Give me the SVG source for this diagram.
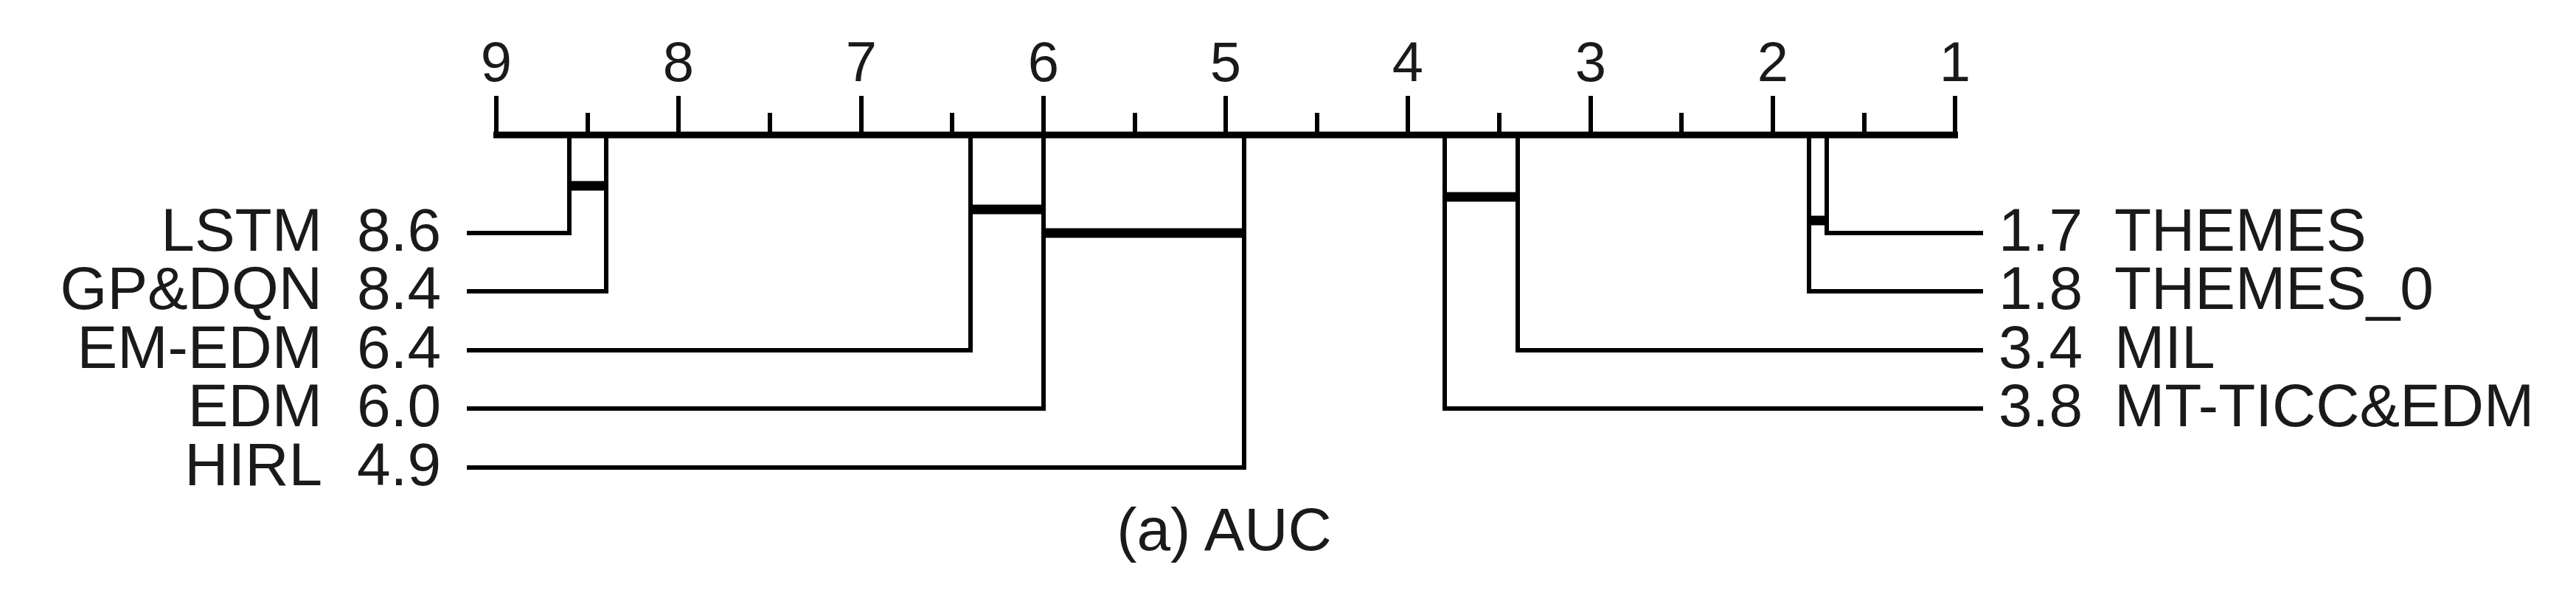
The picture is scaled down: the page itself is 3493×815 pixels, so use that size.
<svg xmlns="http://www.w3.org/2000/svg" width="3493" height="815" viewBox="0 0 3493 815">
<style>
text{font-family:"Liberation Sans",Arial,sans-serif;fill:#1a1a1a;font-size:82px}
.t{font-size:76px;text-anchor:middle}
.e{text-anchor:end}
.ln{stroke:#000;stroke-width:6;fill:none;stroke-linecap:square}
.ax{stroke:#000;stroke-width:9;fill:none}
.cl{stroke:#000;stroke-width:13}
</style>
<rect width="3493" height="815" fill="#fff"/>
<g id="axis">
<line class="ax" x1="669" y1="183" x2="2655" y2="183"/>
<g class="ln">
<line x1="673" y1="133" x2="673" y2="183"/><line x1="920" y1="133" x2="920" y2="183"/><line x1="1168" y1="133" x2="1168" y2="183"/><line x1="1415" y1="133" x2="1415" y2="183"/><line x1="1662" y1="133" x2="1662" y2="183"/><line x1="1909" y1="133" x2="1909" y2="183"/><line x1="2157" y1="133" x2="2157" y2="183"/><line x1="2404" y1="133" x2="2404" y2="183"/><line x1="2651" y1="133" x2="2651" y2="183"/>
<line x1="797" y1="156" x2="797" y2="183"/><line x1="1044" y1="156" x2="1044" y2="183"/><line x1="1291" y1="156" x2="1291" y2="183"/><line x1="1539" y1="156" x2="1539" y2="183"/><line x1="1786" y1="156" x2="1786" y2="183"/><line x1="2033" y1="156" x2="2033" y2="183"/><line x1="2280" y1="156" x2="2280" y2="183"/><line x1="2528" y1="156" x2="2528" y2="183"/>
</g>
<text class="t" x="673" y="110">9</text><text class="t" x="920" y="110">8</text><text class="t" x="1168" y="110">7</text><text class="t" x="1415" y="110">6</text><text class="t" x="1662" y="110">5</text><text class="t" x="1909" y="110">4</text><text class="t" x="2157" y="110">3</text><text class="t" x="2404" y="110">2</text><text class="t" x="2651" y="110">1</text>
</g>
<g id="connectors" class="ln">
<polyline points="636,316 772,316 772,183"/>
<polyline points="636,395 822,395 822,183"/>
<polyline points="636,475 1316,475 1316,183"/>
<polyline points="636,554 1415,554 1415,183"/>
<polyline points="636,634 1687,634 1687,183"/>
<polyline points="2686,316 2477,316 2477,183"/>
<polyline points="2686,395 2453,395 2453,183"/>
<polyline points="2686,475 2058,475 2058,183"/>
<polyline points="2686,554 1959,554 1959,183"/>
</g>
<g id="cliques">
<line class="cl" x1="772" y1="252" x2="822" y2="252"/>
<line class="cl" x1="1316" y1="284" x2="1415" y2="284"/>
<line class="cl" x1="1415" y1="316" x2="1687" y2="316"/>
<line class="cl" x1="1959" y1="267" x2="2058" y2="267"/>
<line class="cl" x1="2453" y1="299" x2="2477" y2="299"/>
</g>
<g id="n-lstm"><text class="e" x="437" y="340">LSTM</text><text class="e" x="598" y="340">8.6</text></g>
<g id="n-gpdqn"><text class="e" x="437" y="419">GP&amp;DQN</text><text class="e" x="598" y="419">8.4</text></g>
<g id="n-emedm"><text class="e" x="437" y="499">EM-EDM</text><text class="e" x="598" y="499">6.4</text></g>
<g id="n-edm"><text class="e" x="437" y="578">EDM</text><text class="e" x="598" y="578">6.0</text></g>
<g id="n-hirl"><text class="e" x="437" y="658">HIRL</text><text class="e" x="598" y="658">4.9</text></g>
<g id="n-themes"><text x="2710" y="340">1.7</text><text x="2867" y="340">THEMES</text></g>
<g id="n-themes0"><text x="2710" y="419">1.8</text><text x="2867" y="419">THEMES_0</text></g>
<g id="n-mil"><text x="2710" y="499">3.4</text><text x="2867" y="499">MIL</text></g>
<g id="n-mt"><text x="2710" y="578">3.8</text><text x="2867" y="578">MT-TICC&amp;EDM</text></g>
<text x="1660" y="746" text-anchor="middle">(a) AUC</text>
</svg>
